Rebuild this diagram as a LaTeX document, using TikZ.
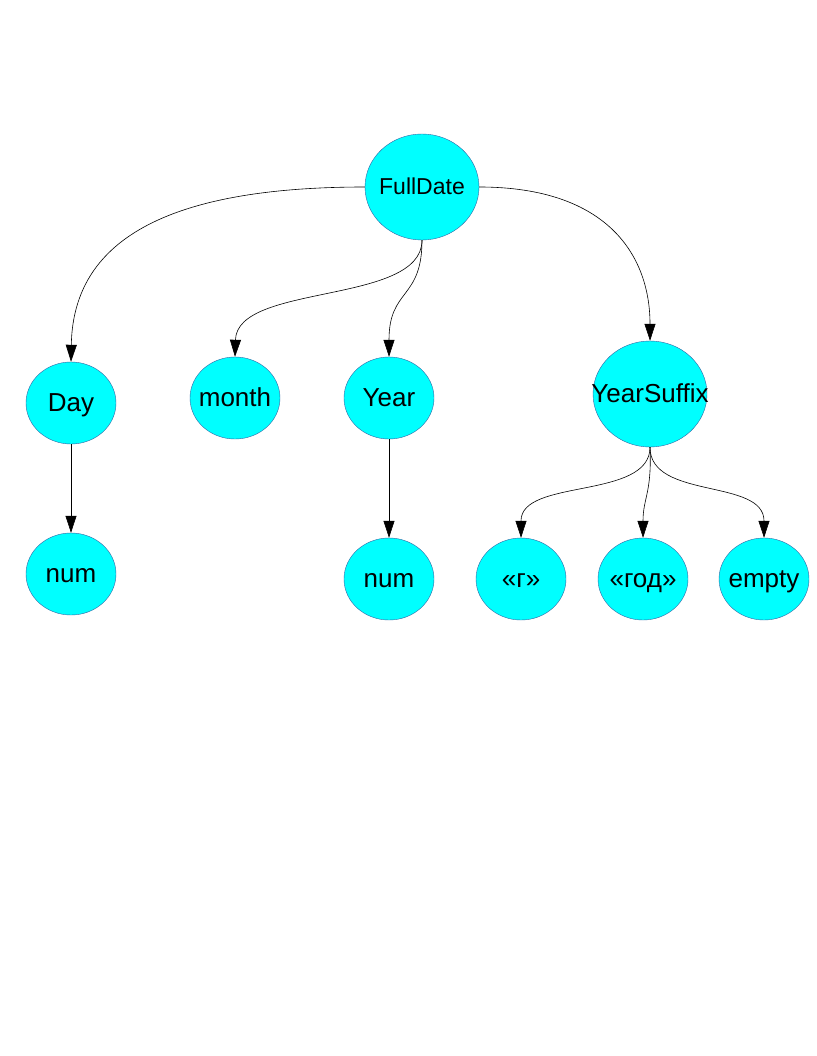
\documentclass[tikz,border=0pt]{standalone}
\usepackage{fontspec}
\setmainfont{Liberation Sans}
\usetikzlibrary{shapes.geometric,arrows.meta}
\newcommand{\ctext}[1]{\raisebox{-8pt}[0pt][0pt]{\makebox[0pt]{#1}}}
\tikzset{
  tnode/.style={ellipse, fill={rgb,255:red,0;green,255;blue,255}, draw={rgb,255:red,52;green,101;blue,164}, line width=0.4pt, inner sep=0pt, minimum width=90pt, minimum height=82pt, font=\fontsize{26}{30}\selectfont},
  bignode/.style={tnode, minimum width=114pt, minimum height=106pt},
  conn/.style={line width=0.6pt, -{Triangle[length=17pt,width=11pt]}}
}
\begin{document}
\begin{tikzpicture}[x=1pt,y=-1pt]
\useasboundingbox (0,0) rectangle (816,1056);
\node[bignode, font=\fontsize{23}{26}\selectfont] (full) at (422,187) {\ctext{FullDate}};
\node[tnode] (day) at (71,403) {\ctext{Day}};
\node[tnode] (month) at (235,398) {\ctext{month}};
\node[tnode] (year) at (389,398) {\ctext{Year}};
\node[bignode] (suffix) at (650,394) {\ctext{YearSuffix}};
\node[tnode] (num1) at (71,574) {\ctext{num}};
\node[tnode] (num2) at (389,579) {\ctext{num}};
\node[tnode] (g) at (521,579) {\ctext{«г»}};
\node[tnode] (god) at (643,579) {\ctext{«год»}};
\node[tnode] (empty) at (764,579) {\ctext{empty}};

\draw[conn] (full.west) .. controls (150,187) and (73,250) .. (day.north);
\draw[conn] (full.south) .. controls (422,305) and (237,283) .. (month.north);
\draw[conn] (full.south) .. controls (422,300) and (389,288) .. (year.north);
\draw[conn] (full.east) .. controls (610,187) and (650,258) .. (suffix.north);
\draw[conn] (day.south) -- (num1.north);
\draw[conn] (year.south) -- (num2.north);
\draw[conn] (suffix.south) .. controls (650,500) and (521,478) .. (g.north);
\draw[conn] (suffix.south) .. controls (652,493) and (643,498) .. (god.north);
\draw[conn] (suffix.south) .. controls (650,500) and (764,478) .. (empty.north);
\end{tikzpicture}
\end{document}
